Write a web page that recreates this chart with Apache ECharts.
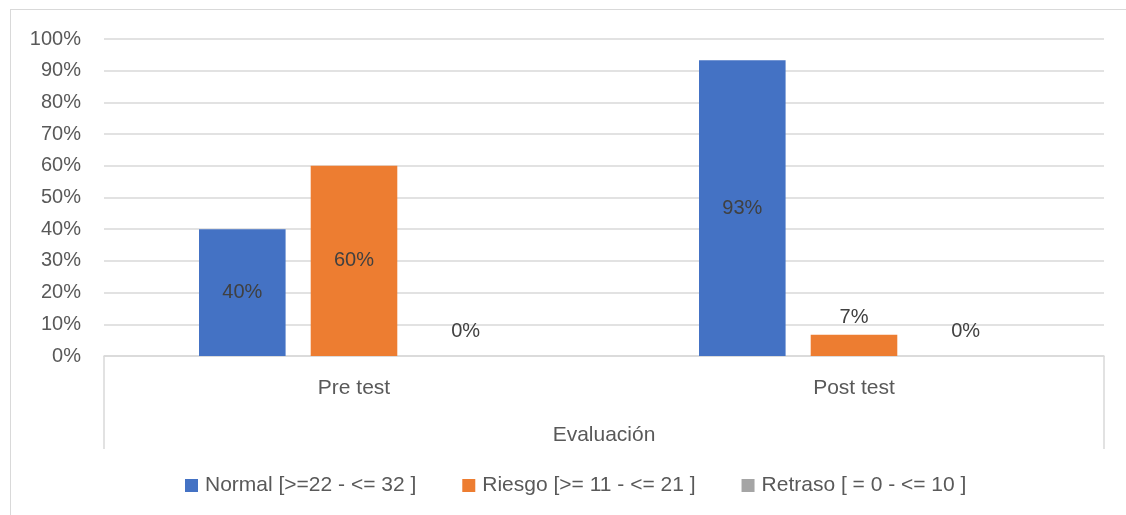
<!DOCTYPE html>
<html>
<head>
<meta charset="utf-8">
<script src="https://cdn.jsdelivr.net/npm/echarts@6/dist/echarts.min.js"></script>
<style>
html,body{margin:0;padding:0;background:#fff;overflow:hidden;}
#wrap{position:relative;width:1126px;height:515px;}
#frame{position:absolute;left:10px;top:9px;width:1200px;height:600px;border-left:1.5px solid #d9d9d9;border-top:1.5px solid #d9d9d9;}
#chart{position:absolute;left:0;top:0;width:1126px;height:515px;}
</style>
</head>
<body>
<div id="wrap"><div id="frame"></div><div id="chart"></div></div>
<script>
const categories = ['Pre test', 'Post test'];
const seriesNames = ['Normal [>=22 - <= 32 ]', 'Riesgo [>= 11 - <= 21 ]', 'Retraso [ = 0 - <= 10 ]'];
const normal = [40, 93.33];
const riesgo = [60, 6.67];
const retraso = [0, 0];
const yTicks = [0, 10, 20, 30, 40, 50, 60, 70, 80, 90, 100];
const axisTitle = 'Evaluación';

const colors = ['#4472C4', '#ED7D31', '#A5A5A5'];
const FONT = '"Liberation Sans", Arial, sans-serif';

function items(vals) {
  return vals.map(v => {
    if (v >= 10) return { value: v, label: { position: 'inside' } };
    return { value: v, label: { position: 'top', distance: v === 0 ? 15 : 7 } };
  });
}

const chart = echarts.init(document.getElementById('chart'), null, { renderer: 'canvas' });
const dataSets = [normal, riesgo, retraso];
chart.setOption({
  animation: false,
  textStyle: { fontFamily: FONT },
  grid: { left: 104, right: 22, top: 39, bottom: 159, containLabel: false },
  legend: {
    left: 180, top: 470,
    itemWidth: 13, itemHeight: 13, itemGap: 46,
    icon: 'rect',
    textStyle: { fontFamily: FONT, fontSize: 21, color: '#595959', padding: [0, 0, 0, 2] },
    data: seriesNames
  },
  xAxis: {
    type: 'category',
    data: categories,
    boundaryGap: true,
    axisLine: { lineStyle: { color: '#d9d9d9', width: 1.5 } },
    axisTick: { show: true, length: 93, interval: (i) => i === 0, lineStyle: { color: '#d9d9d9', width: 1.5 } },
    axisLabel: { fontFamily: FONT, fontSize: 21, color: '#595959', margin: 22 },
    name: axisTitle,
    nameLocation: 'middle',
    nameGap: 69,
    nameTextStyle: { fontFamily: FONT, fontSize: 21, color: '#595959' },
    splitLine: { show: false }
  },
  yAxis: {
    type: 'value',
    min: yTicks[0], max: yTicks[yTicks.length - 1], interval: yTicks[1] - yTicks[0],
    axisLine: { show: false },
    axisTick: { show: false },
    axisLabel: { fontFamily: FONT, fontSize: 20, color: '#595959', margin: 23, formatter: '{value}%' },
    splitLine: { lineStyle: { color: '#d9d9d9', width: 1.5 } }
  },
  series: dataSets.map((d, i) => ({
    name: seriesNames[i],
    type: 'bar',
    data: items(d),
    barGap: '29%',
    barCategoryGap: '38%',
    itemStyle: { color: colors[i] },
    label: {
      show: true,
      fontFamily: FONT, fontSize: 20, color: '#404040',
      formatter: p => Math.round(p.value) + '%'
    }
  }))
});
</script>
</body>
</html>
